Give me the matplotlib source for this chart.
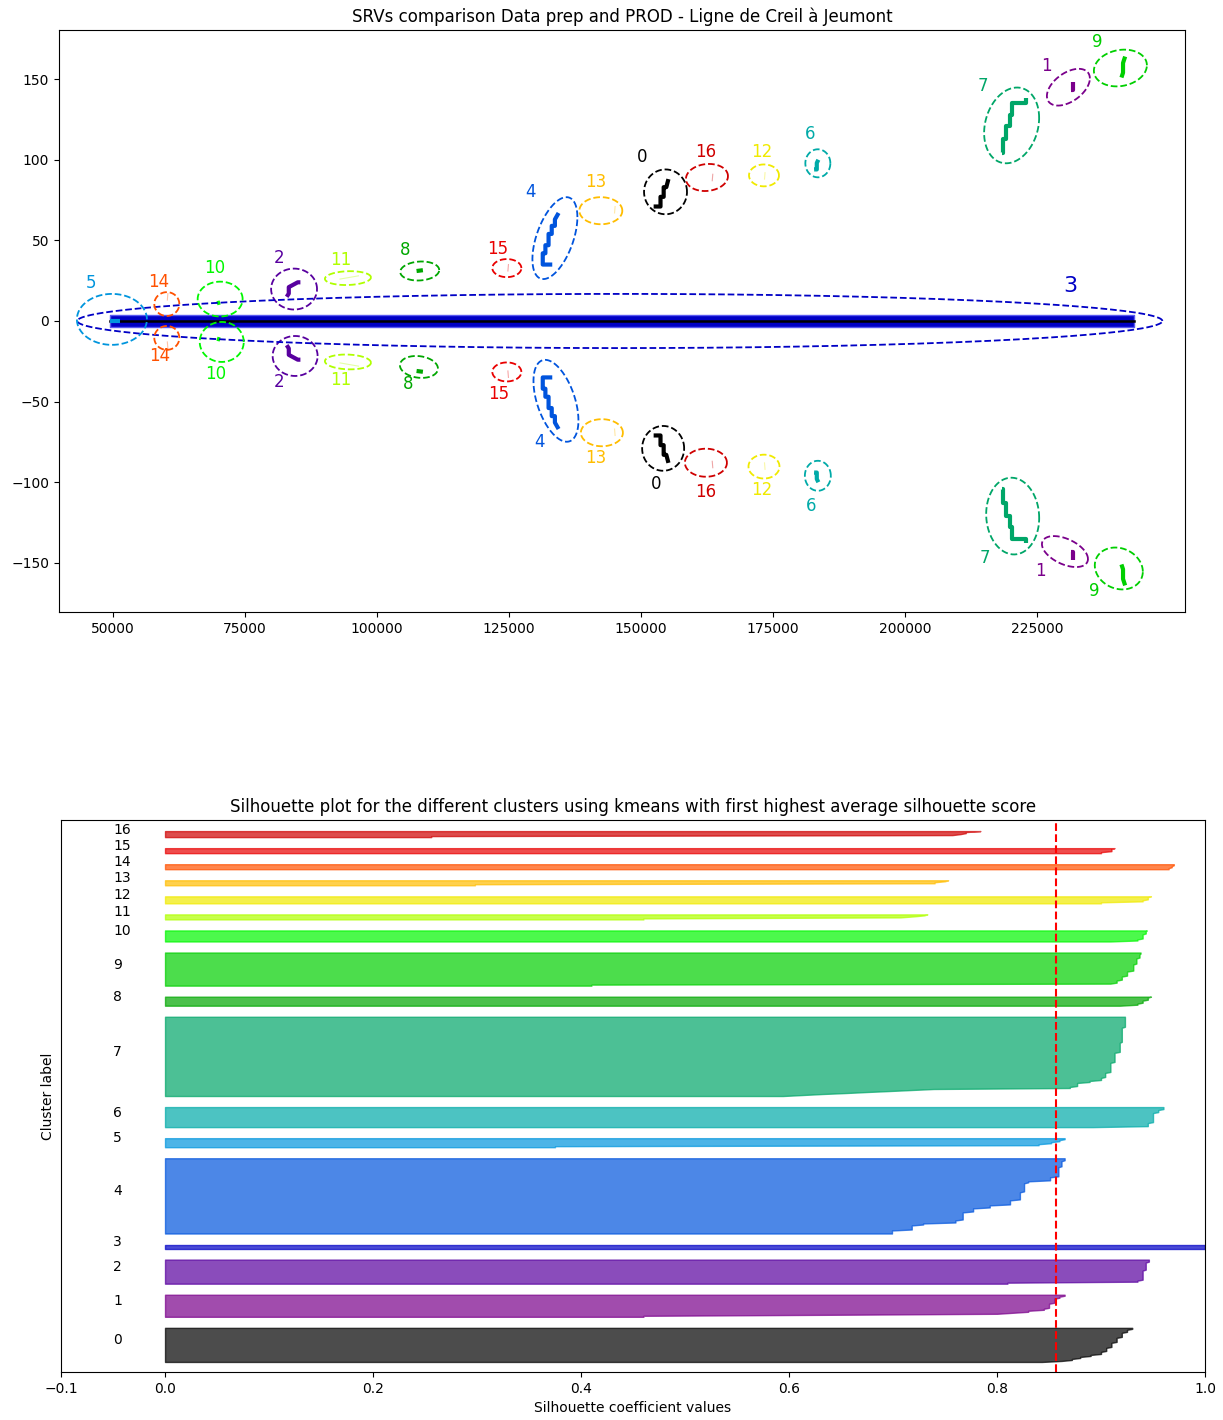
import numpy as np
import matplotlib
matplotlib.use("Agg")
import matplotlib.pyplot as plt

N_CLUSTERS = 17

# ---------------- SRV clusters (upper = Data prep, lower = PROD) ----------------
cluster_ids = list(range(N_CLUSTERS))

# ellipse around each cluster: centre x, centre y, half width (x units), half height, tilt phase
ell_up_cx = [154650, 230950, 84300, 146000, 133700, 49800, 183500, 220200, 108100, 240800,
             70300, 94500, 173300, 142400, 60200, 124600, 162500]
ell_up_cy = [80.1, 145, 19.8, 0, 51.4, 1, 97.8, 121.3, 31, 156.9,
             13.6, 26.6, 90.3, 68.4, 10.5, 32.8, 89]
ell_up_rx = [4070, 4070, 4350, 102750, 4260, 6630, 2370, 5210, 3690, 5020,
             4260, 4360, 2840, 4070, 2370, 2750, 3980]
ell_up_ry = [13.9, 11.4, 12.7, 16.8, 25.4, 15.8, 8.7, 23.5, 5.9, 11.4,
             10.8, 4.3, 6.8, 8.4, 7.4, 5.6, 8.4]
ell_up_phi = [0, 0.5, 0, 0, 0.54, 0, 0, 0.2, 0.1, 0.15,
              0, 0.1, 0, 0, 0, 0, 0.1]

ell_lo_cx = [154200, 230300, 84500, None, 133900, None, 183500, 220400, 107950, 240500,
             70600, 94500, 173300, 142600, 60200, 124600, 162300]
ell_lo_cy = [-79, -143, -21.7, None, -49.5, None, -96, -121, -28.5, -153.5,
             -13, -25.4, -90.3, -69.3, -10.5, -31.6, -87.9]
ell_lo_rx = [3980, 4360, 4260, None, 4260, None, 2460, 5020, 3600, 4550,
             4170, 4360, 2940, 3980, 2370, 2750, 3980]
ell_lo_ry = [13.9, 9.6, 12.4, None, 25.4, None, 9.3, 23.8, 6.8, 13,
             12.4, 4.6, 7.4, 8.4, 7.4, 5.9, 8.7]
ell_lo_phi = [0, -0.5, 0, None, -0.5, None, 0, -0.05, -0.15, -0.15,
              0, -0.1, 0, 0, 0, 0, 0]

# cluster number labels
lab_up_x = [150200, 226700, 81440, 231250, 129170, 45830, 182000, 214770, 105300, 236360,
            69320, 93180, 172900, 141480, 58710, 122900, 162310]
lab_up_y = [101.5, 158.4, 39, 21.7, 80, 23.5, 115.7, 146, 44, 173,
            32.8, 37.7, 104.6, 86, 24, 44.5, 105]
lab_lo_x = [152800, 225570, 81440, None, 130700, None, 182200, 215150, 105870, 235800,
            69500, 93180, 172900, 141480, 58900, 123100, 162300]
lab_lo_y = [-101, -155, -37.7, None, -75, None, -114.5, -147, -39, -167.7,
            -32.8, -36.5, -105, -84.8, -22, -45, -106]

# SRV traces per cluster (Data prep values; PROD is the mirrored series)
trace_x = [
    [152400, 153700, 153700, 154300, 154300, 154800, 155200],
    [231500, 231900, 231900],
    [82900, 83300, 83300, 85000, 85500],
    [],
    [133200, 131400, 131400, 131900, 131900, 132500, 132500, 133100, 133100, 133700, 133700, 134400],
    [49400, 51300],
    [182800, 183300, 183300, 183600],
    [218300, 218600, 218600, 219200, 219200, 219900, 219900, 220300, 220300, 223000, 223000],
    [107500, 108700],
    [241000, 241300, 241300, 241700],
    [69700, 70300],
    [93000, 96500],
    [173400, 173500],
    [145000, 145100],
    [60300, 60400],
    [124800, 124900],
    [163500, 163600],
]
trace_y = [
    [71, 71, 77, 77, 83, 83, 88],
    [143, 143, 148],
    [15, 17, 21, 24, 24],
    [],
    [35, 35, 42, 42, 47, 47, 54, 54, 59, 59, 63, 67],
    [0, 0],
    [94, 94, 98, 100],
    [104, 104, 113, 113, 121, 121, 128, 128, 135, 135, 138],
    [31, 31.5],
    [151, 154, 160, 164],
    [11, 11.5],
    [26, 28],
    [88, 92],
    [67, 71],
    [13, 17],
    [31, 35],
    [87, 91],
]
faint_clusters = [11, 12, 13, 14, 15, 16]

# cluster 3: the long plateau around zero
band_x = [49400, 243400]
band_half = 3.9

# ---------------- silhouette values (value, number of samples), ascending ----------------
silhouette_runs = [
    [(0.843, 1), (0.862, 1), (0.872, 2), (0.88, 2), (0.89, 2), (0.9, 3), (0.905, 4),
     (0.91, 5), (0.915, 5), (0.92, 5), (0.925, 3), (0.93, 2)],
    [(0.46, 2), (0.64, 1), (0.80, 1), (0.815, 1), (0.83, 2), (0.845, 2), (0.85, 5),
     (0.855, 5), (0.86, 2), (0.865, 2)],
    [(0.81, 2), (0.935, 2), (0.94, 10), (0.943, 8), (0.946, 3)],
    [(1.0, 5)],
    [(0.699, 4), (0.718, 5), (0.729, 2), (0.76, 3), (0.767, 8), (0.777, 4), (0.793, 3),
     (0.8125, 5), (0.822, 8), (0.826, 9), (0.83, 2), (0.851, 4), (0.859, 10), (0.862, 6),
     (0.865, 3)],
    [(0.375, 2), (0.84, 2), (0.852, 2), (0.86, 2), (0.865, 2)],
    [(0.892, 1), (0.945, 4), (0.95, 10), (0.955, 3), (0.96, 3)],
    [(0.594, 1), (0.613, 1), (0.632, 1), (0.655, 1), (0.675, 1), (0.697, 1), (0.718, 1),
     (0.739, 1), (0.87, 2), (0.877, 4), (0.889, 2), (0.9, 3), (0.904, 5), (0.909, 10),
     (0.913, 10), (0.918, 10), (0.92, 15), (0.923, 11)],
    [(0.918, 1), (0.935, 2), (0.94, 3), (0.945, 3), (0.948, 1)],
    [(0.41, 2), (0.909, 1), (0.915, 3), (0.92, 4), (0.925, 5), (0.931, 7), (0.934, 6),
     (0.937, 4), (0.938, 2)],
    [(0.909, 1), (0.935, 2), (0.94, 5), (0.943, 3), (0.944, 1)],
    [(0.46, 2), (0.707, 1), (0.72, 1), (0.73, 1), (0.733, 1)],
    [(0.90, 2), (0.94, 2), (0.945, 3), (0.948, 1)],
    [(0.298, 2), (0.74, 2), (0.75, 1), (0.753, 1)],
    [(0.965, 2), (0.968, 2), (0.97, 2)],
    [(0.9, 2), (0.91, 3), (0.913, 1)],
    [(0.256, 2), (0.757, 1), (0.765, 1), (0.77, 2), (0.784, 1)],
]
silhouette_avg = 0.857


def cluster_color(i):
    return plt.cm.nipy_spectral(float(i) / N_CLUSTERS)


def ellipse_curve(cx, cy, rx, ry, phi):
    t = np.linspace(0, 2 * np.pi, 300)
    return cx + rx * np.cos(t), cy + ry * np.sin(t + phi)


fig = plt.figure(figsize=(12.23, 14.2), dpi=100)
ax1 = fig.add_axes([0.0482, 0.569, 0.9207, 0.4099])
ax2 = fig.add_axes([0.0499, 0.0338, 0.9354, 0.3887])

# ---------------- top panel ----------------
c3 = cluster_color(3)
ax1.fill_between(band_x, -band_half, band_half, facecolor=c3,
                 edgecolor=(0.35, 0.35, 0.95), linewidth=1.0, zorder=2)
ax1.plot(band_x, [0, 0], color="black", lw=1.8, zorder=3)

for i in cluster_ids:
    col = cluster_color(i)
    xs, ys = trace_x[i], trace_y[i]
    if xs:
        if i in faint_clusters:
            ax1.plot(xs, ys, color=col, lw=0.8, alpha=0.35, zorder=4)
            ax1.plot(xs, [-v for v in ys], color=col, lw=0.8, alpha=0.35, zorder=4)
        elif i == 5:
            ax1.plot(xs, ys, color=col, lw=3, solid_capstyle="butt", zorder=4)
        else:
            ax1.plot(xs, ys, color=col, lw=3, solid_capstyle="butt", zorder=4)
            ax1.plot(xs, [-v for v in ys], color=col, lw=3, solid_capstyle="butt", zorder=4)

    ex, ey = ellipse_curve(ell_up_cx[i], ell_up_cy[i], ell_up_rx[i], ell_up_ry[i], ell_up_phi[i])
    ax1.plot(ex, ey, color=col, lw=1.3, ls="--", zorder=5)
    fs = 16 if i == 3 else 12
    ax1.text(lab_up_x[i], lab_up_y[i], str(i), color=col, fontsize=fs,
             ha="center", va="center")
    if ell_lo_cx[i] is not None:
        ex, ey = ellipse_curve(ell_lo_cx[i], ell_lo_cy[i], ell_lo_rx[i], ell_lo_ry[i], ell_lo_phi[i])
        ax1.plot(ex, ey, color=col, lw=1.3, ls="--", zorder=5)
        ax1.text(lab_lo_x[i], lab_lo_y[i], str(i), color=col, fontsize=12,
                 ha="center", va="center")

ax1.set_xlim(39770, 253030)
ax1.set_ylim(-180.5, 180.5)
ax1.set_xticks([50000, 75000, 100000, 125000, 150000, 175000, 200000, 225000])
ax1.set_yticks([-150, -100, -50, 0, 50, 100, 150])
ax1.ticklabel_format(style="plain", axis="x", useOffset=False)
ax1.set_title("SRVs comparison Data prep and PROD - Ligne de Creil à Jeumont")

# ---------------- silhouette panel ----------------
y_lower = 10
total = 0
for i in cluster_ids:
    vals_i = np.repeat([v for v, n in silhouette_runs[i]], [n for v, n in silhouette_runs[i]])
    size_i = len(vals_i)
    total += size_i
    y_upper = y_lower + size_i
    col = cluster_color(i)
    ax2.fill_betweenx(np.arange(y_lower, y_upper), 0, vals_i,
                      facecolor=col, edgecolor=col, alpha=0.7)
    ax2.text(-0.05, y_lower + 0.5 * size_i, str(i))
    y_lower = y_upper + 10

ax2.axvline(x=silhouette_avg, color="red", linestyle="--")
ax2.set_xlim(-0.1, 1)
ax2.set_ylim(0, total + (N_CLUSTERS + 1) * 10)
ax2.set_yticks([])
ax2.set_xticks([-0.1, 0, 0.2, 0.4, 0.6, 0.8, 1])
ax2.set_title("Silhouette plot for the different clusters using kmeans with first highest average silhouette score")
ax2.set_xlabel("Silhouette coefficient values")
ax2.set_ylabel("Cluster label")

fig.savefig("out.png", dpi=100)
